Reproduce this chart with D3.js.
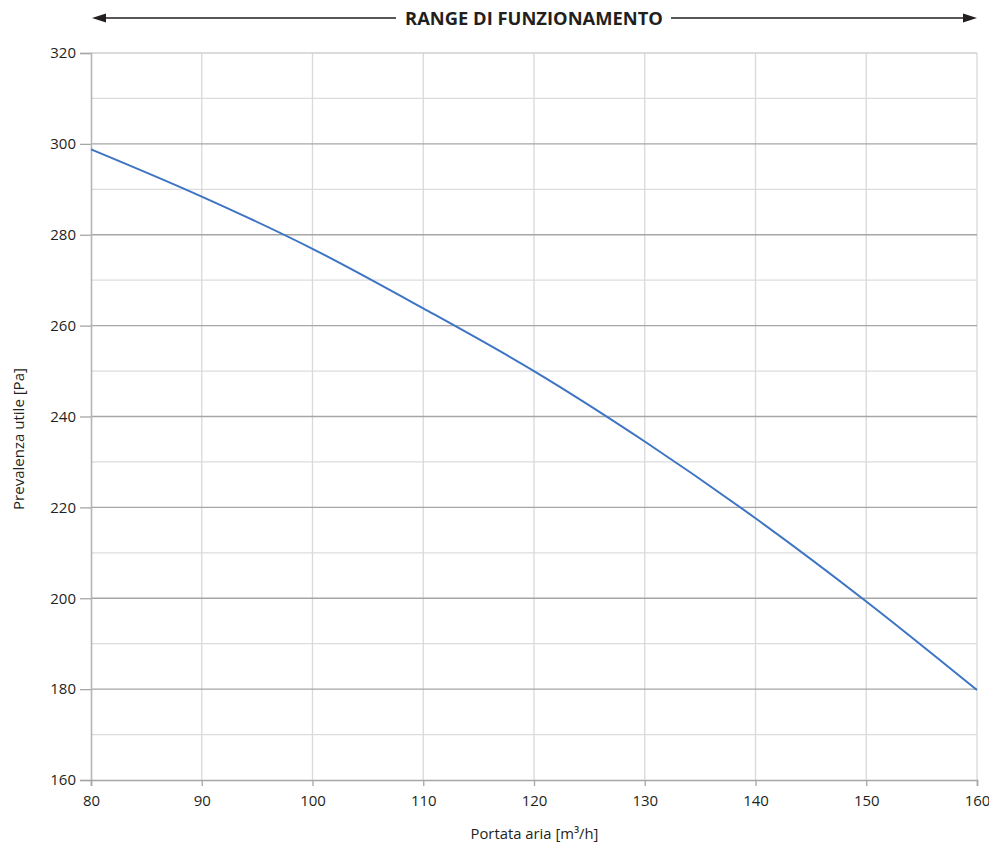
<!DOCTYPE html>
<html><head><meta charset="utf-8">
<script src="https://cdn.jsdelivr.net/npm/d3@7"></script>
<style>body{margin:0;background:#fff}svg{display:block}text{font-family:"Open Sans",sans-serif;fill:#231f20}</style>
</head><body>
<svg id="c" width="989" height="845"></svg>
<script>
const flow = [80, 90, 100, 110, 120, 130, 140, 150, 160];
const pressure = [298.8, 288.4, 276.9, 263.8, 250.0, 234.5, 217.6, 199.3, 179.8];
const xTicks = [80, 90, 100, 110, 120, 130, 140, 150, 160];
const yMajor = [160, 180, 200, 220, 240, 260, 280, 300, 320];
const yMinor = [170, 190, 210, 230, 250, 270, 290, 310];
const title = "RANGE DI FUNZIONAMENTO";
const xTitle = "Portata aria [m³/h]";
const yTitle = "Prevalenza utile [Pa]";

const svg = d3.select("#c");
const L = 91, R = 977, T = 53, B = 780;
const x = d3.scaleLinear().domain([80, 160]).range([L, R]);
const y = d3.scaleLinear().domain([160, 320]).range([B, T]);

function fit(sel, width) {
  const w = sel.node().getComputedTextLength();
  const fs = parseFloat(sel.style("font-size"));
  sel.style("font-size", (fs * width / w) + "px");
}

// minor horizontal gridlines
svg.append("g").selectAll("line").data(yMinor).join("line")
  .attr("x1", L).attr("x2", R).attr("y1", d => y(d)).attr("y2", d => y(d))
  .attr("stroke", "#dcdcdc").attr("stroke-width", 1.3);
// vertical gridlines
svg.append("g").selectAll("line").data(xTicks.slice(1)).join("line")
  .attr("x1", d => x(d)).attr("x2", d => x(d)).attr("y1", T).attr("y2", B)
  .attr("stroke", "#d9d9d9").attr("stroke-width", 1.3);
// major horizontal gridlines
svg.append("g").selectAll("line").data(yMajor.slice(1)).join("line")
  .attr("x1", L).attr("x2", R).attr("y1", d => y(d)).attr("y2", d => y(d))
  .attr("stroke", d => d === 320 ? "#cfcfcf" : "#a6a6a6").attr("stroke-width", 1.3);

// y axis
const yAxis = svg.append("g").attr("transform", `translate(${L},0)`)
  .call(d3.axisLeft(y).tickValues(yMajor).tickSize(11).tickPadding(4));
yAxis.select(".domain").attr("stroke", "#b5b5b5").attr("stroke-width", 1.6);
yAxis.selectAll(".tick line").attr("stroke", "#a6a6a6").attr("stroke-width", 1.3);
yAxis.selectAll(".tick text").style("font-size", "15px").style("font-family", "'Open Sans', sans-serif").attr("fill", "#231f20");

// x axis
const xAxis = svg.append("g").attr("transform", `translate(0,${B})`)
  .call(d3.axisBottom(x).tickValues(xTicks).tickSize(6).tickPadding(9));
xAxis.select(".domain").attr("stroke", "#a6a6a6").attr("stroke-width", 1.6);
xAxis.selectAll(".tick line").attr("stroke", "#a6a6a6").attr("stroke-width", 1.3);
xAxis.selectAll(".tick text").style("font-size", "15px").style("font-family", "'Open Sans', sans-serif").attr("fill", "#231f20");

// curve
const line = d3.line().x((d, i) => x(flow[i])).y(d => y(d)).curve(d3.curveMonotoneX);
svg.append("path").datum(pressure).attr("d", line)
  .attr("fill", "none").attr("stroke", "#3d74c3").attr("stroke-width", 2);

// axis titles
const xt = svg.append("text").attr("x", 534.5).attr("y", 839).attr("text-anchor", "middle")
  .style("font-size", "14px").text(xTitle);
fit(xt, 128);
const yt = svg.append("text").attr("transform", `translate(24,439) rotate(-90)`)
  .attr("text-anchor", "middle").style("font-size", "14px").text(yTitle);
fit(yt, 142);

// top range arrow
const ay = 18;
const tt = svg.append("text").attr("x", 534).attr("y", 24.5).attr("text-anchor", "middle")
  .style("font-size", "16px").style("font-weight", "bold").text(title);
fit(tt, 258);
svg.append("line").attr("x1", x(80) + 10).attr("x2", 396).attr("y1", ay).attr("y2", ay)
  .attr("stroke", "#231f20").attr("stroke-width", 1.3);
svg.append("line").attr("x1", 671).attr("x2", x(160) - 10).attr("y1", ay).attr("y2", ay)
  .attr("stroke", "#231f20").attr("stroke-width", 1.3);
svg.append("path").attr("d", `M${x(80) + 1},${ay} l14,-4.5 l0,9 z`).attr("fill", "#231f20");
svg.append("path").attr("d", `M${x(160)},${ay} l-14,-4.5 l0,9 z`).attr("fill", "#231f20");
</script>
</body></html>
